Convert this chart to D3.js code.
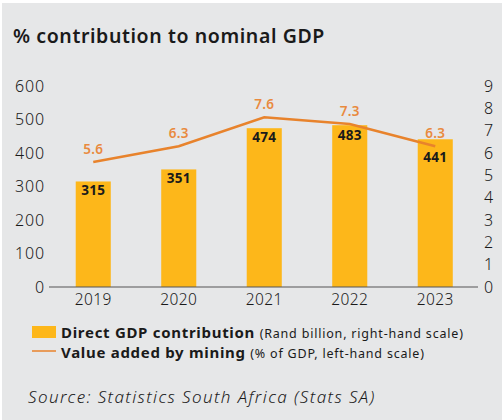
<!DOCTYPE html>
<html>
<head>
<meta charset="utf-8">
<script src="https://cdn.jsdelivr.net/npm/d3@7"></script>
<style>
  html, body { margin: 0; padding: 0; background: #fff; }
  svg { display: block; font-family: "Noto Sans", "Open Sans", sans-serif; }
</style>
</head>
<body>
<svg id="chart"></svg>
<script>
const years = ["2019", "2020", "2021", "2022", "2023"];
const gdpContribution = [315, 351, 474, 483, 441];   // Rand billion
const miningShare = [5.6, 6.3, 7.6, 7.3, 6.3];        // % of GDP
const leftTicks = [0, 100, 200, 300, 400, 500, 600];
const rightTicks = [0, 1, 2, 3, 4, 5, 6, 7, 8, 9];

const width = 502, height = 420;
const barColor = "#fdb71a";
const lineColor = "#e8832c";
const lineLabelColor = "#e98a3e";
const textColor = "#1a1a1a";

const svg = d3.select("#chart")
    .attr("width", width)
    .attr("height", height)
    .attr("viewBox", [0, 0, width, height]);

// light grey panel with a thin white edge top/left
svg.append("rect")
    .attr("x", 2).attr("y", 3)
    .attr("width", width - 2).attr("height", height - 3)
    .attr("fill", "#e6e7e8");

svg.append("text")
    .attr("x", 13).attr("y", 43)
    .attr("fill", textColor)
    .attr("font-size", 19.5)
    .attr("font-weight", 600)
    .attr("letter-spacing", 0.6)
    .text("% contribution to nominal GDP");

const x = d3.scaleBand()
    .domain(years)
    .range([50.5, 478])
    .paddingInner(0.59)
    .paddingOuter(0.295);

const yLeft = d3.scaleLinear().domain([0, 600]).range([287, 86]);
const yRight = d3.scaleLinear().domain([0, 9]).range([287, 86]);

const styleTicks = g => g.selectAll("text")
    .attr("font-size", 16)
    .attr("font-weight", 300)
    .attr("letter-spacing", 0.9)
    .attr("fill", textColor)
    .attr("font-family", "Noto Sans");

// left axis
svg.append("g")
    .attr("transform", "translate(45,0)")
    .call(d3.axisLeft(yLeft).tickValues(leftTicks).tickSize(0).tickPadding(0))
    .call(g => g.select(".domain").remove())
    .call(styleTicks);

// right axis
svg.append("g")
    .attr("transform", "translate(484,0)")
    .call(d3.axisRight(yRight).tickValues(rightTicks).tickSize(0).tickPadding(0))
    .call(g => g.select(".domain").remove())
    .call(styleTicks);

// bars
svg.append("g")
  .selectAll("rect")
  .data(years)
  .join("rect")
    .attr("x", d => x(d))
    .attr("y", (d, i) => yLeft(gdpContribution[i]))
    .attr("width", x.bandwidth())
    .attr("height", (d, i) => yLeft(0) - yLeft(gdpContribution[i]))
    .attr("fill", barColor);

// x axis
svg.append("g")
    .attr("transform", `translate(0,${yLeft(0)})`)
    .call(d3.axisBottom(x).tickSize(0).tickPadding(7))
    .call(g => g.select(".domain").attr("stroke", "#555").attr("stroke-width", 1.2).attr("d", "M49,0H478"))
    .call(g => g.selectAll("text")
        .attr("font-size", 15.5)
        .attr("font-weight", 300)
        .attr("letter-spacing", 0.4)
        .attr("fill", textColor)
        .attr("font-family", "Noto Sans"));

// mining share line
const cx = d => x(d) + x.bandwidth() / 2;
const line = d3.line()
    .x((d, i) => cx(years[i]))
    .y(d => yRight(d));

svg.append("path")
    .attr("fill", "none")
    .attr("stroke", lineColor)
    .attr("stroke-width", 2.6)
    .attr("d", line(miningShare));

svg.append("g")
  .selectAll("text")
  .data(years)
  .join("text")
    .attr("x", d => cx(d))
    .attr("y", (d, i) => yRight(miningShare[i]) - 12)
    .attr("text-anchor", "middle")
    .attr("dominant-baseline", "middle")
    .attr("font-size", 13.5)
    .attr("font-weight", 600)
    .attr("letter-spacing", 0.3)
    .attr("fill", lineLabelColor)
    .text((d, i) => miningShare[i].toFixed(1));

// bar value labels, pushed below the line where they would clash
svg.append("g")
  .selectAll("text")
  .data(years)
  .join("text")
    .attr("x", d => cx(d))
    .attr("y", (d, i) => Math.max(yLeft(gdpContribution[i]) + 10, yRight(miningShare[i]) + 12))
    .attr("text-anchor", "middle")
    .attr("dominant-baseline", "middle")
    .attr("font-size", 13.5)
    .attr("font-weight", 700)
    .attr("letter-spacing", 0.3)
    .attr("fill", textColor)
    .text((d, i) => gdpContribution[i]);

// legend
const legend = svg.append("g");
legend.append("rect")
    .attr("x", 32).attr("y", 326)
    .attr("width", 24).attr("height", 12)
    .attr("fill", barColor);
const l1 = legend.append("text")
    .attr("x", 61).attr("y", 338)
    .attr("fill", textColor);
l1.append("tspan").attr("font-size", 15).attr("font-weight", 700).attr("letter-spacing", 0.7).text("Direct GDP contribution ");
l1.append("tspan").attr("font-size", 12.5).attr("font-weight", 400).attr("letter-spacing", 0.8).text("(Rand billion, right-hand scale)");

legend.append("line")
    .attr("x1", 32).attr("x2", 56)
    .attr("y1", 351).attr("y2", 351)
    .attr("stroke", lineColor)
    .attr("stroke-width", 1.5);
const l2 = legend.append("text")
    .attr("x", 61).attr("y", 358)
    .attr("fill", textColor);
l2.append("tspan").attr("font-size", 15).attr("font-weight", 700).attr("letter-spacing", 0.7).text("Value added by mining ");
l2.append("tspan").attr("font-size", 12.5).attr("font-weight", 400).attr("letter-spacing", 0.8).text("(% of GDP, left-hand scale)");

svg.append("text")
    .attr("x", 28).attr("y", 403)
    .attr("fill", textColor)
    .attr("font-size", 17)
    .attr("font-style", "italic")
    .attr("font-weight", 300)
    .attr("letter-spacing", 1.4)
    .text("Source: Statistics South Africa (Stats SA)");
</script>
</body>
</html>
